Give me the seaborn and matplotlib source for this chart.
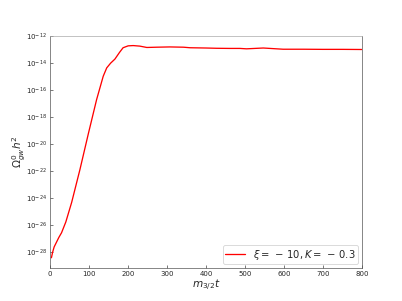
import numpy as np
import pandas as pd
import matplotlib
matplotlib.use("Agg")
import matplotlib.pyplot as plt
import seaborn as sns

# Data (x = m_{3/2} t, y = log10 Omega_gw h^2)
t_vals = [3, 6, 10, 16, 22, 29, 40, 55, 76, 98, 119, 136, 145, 155, 166, 178,
          187, 200, 213, 230, 248, 273, 307, 342, 359, 400, 427, 460, 487,
          504, 547, 598, 650, 700, 750, 800]
log_omega = [-28.4, -28.0, -27.6, -27.25, -26.9, -26.55, -25.75, -24.3,
             -21.9, -19.2, -16.7, -14.97, -14.35, -14.0, -13.7, -13.2,
             -12.86, -12.72, -12.70, -12.74, -12.84, -12.82, -12.80, -12.82,
             -12.86, -12.88, -12.90, -12.91, -12.91, -12.94, -12.88, -12.97,
             -12.97, -12.98, -12.98, -12.99]
series_label = r"$\xi=\,-\,10,K=\,-\,0.3$"
ytick_exps = [-28, -26, -24, -22, -20, -18, -16, -14, -12]
xticks = [0, 100, 200, 300, 400, 500, 600, 700, 800]

df = pd.DataFrame({"t": t_vals, "omega": [10.0 ** v for v in log_omega]})

sns.set_style("ticks")
plt.rcParams["font.family"] = ["DejaVu Sans"]

fig, ax = plt.subplots(figsize=(402 / 62.8, 301 / 62.8), dpi=62.8)
fig.subplots_adjust(left=0.125, right=0.9, top=0.88, bottom=0.11)

sns.lineplot(data=df, x="t", y="omega", color="red", lw=1.5, ax=ax,
             label=series_label)
ax.set_yscale("log")
ax.set_xlim(0, 800)
ax.set_ylim(10 ** -29.15, 1e-12)
ax.set_yticks([10.0 ** e for e in ytick_exps])
ax.set_yticklabels([rf"$10^{{{e}}}$" for e in ytick_exps])
ax.minorticks_off()
ax.set_xticks(xticks)
ax.tick_params(labelsize=8, length=3, color="#444444", direction="in")
for s in ax.spines.values():
    s.set_color("#555555")
ax.spines["top"].set_color("#aaaaaa")
ax.set_xlabel(r"$m_{3/2}t$", fontsize=12, labelpad=1)
ax.set_ylabel(r"$\Omega^0_{gw}h^2$", fontsize=12, labelpad=-2)
ax.legend(loc="lower right", fontsize=11.5, handlelength=2.0, borderpad=0.25,
          borderaxespad=0.35)

fig.savefig("out.png", dpi=62.8)
